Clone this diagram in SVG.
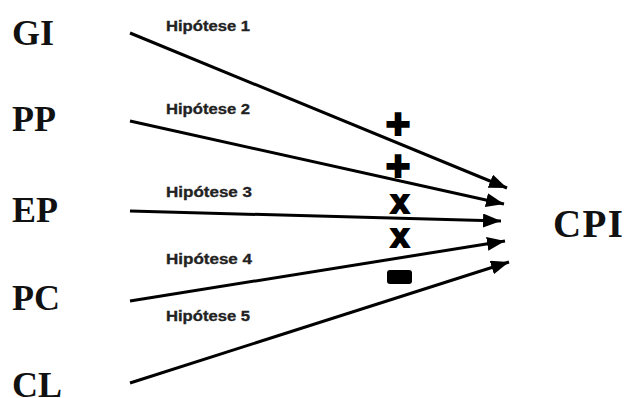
<svg xmlns="http://www.w3.org/2000/svg" width="630" height="398" viewBox="0 0 630 398">
<defs>
<style>
.lbl{font-family:"Liberation Serif","Times New Roman",serif;font-weight:bold;font-size:36px;fill:#111}
.hyp{font-family:"Liberation Sans",Arial,sans-serif;font-weight:bold;font-size:14px;fill:#222;stroke:#222;stroke-width:0.3}
.sym{font-family:"Liberation Sans",Arial,sans-serif;font-weight:bold;fill:#000;stroke:#000;text-anchor:middle}
.conn{stroke:#000;stroke-width:3;fill:none;marker-end:url(#ah)}
</style>
<marker id="ah" markerUnits="userSpaceOnUse" markerWidth="18" markerHeight="14" refX="18" refY="7" orient="auto">
<path d="M0,0 L18,7 L0,14 z" fill="#000"/>
</marker>
</defs>
<rect width="630" height="398" fill="#fff"/>
<g id="GI"><text class="lbl" x="12" y="45">GI</text></g>
<g id="PP"><text class="lbl" x="12" y="131">PP</text></g>
<g id="EP"><text class="lbl" x="12" y="222">EP</text></g>
<g id="PC"><text class="lbl" x="12" y="310">PC</text></g>
<g id="CL"><text class="lbl" x="12" y="397">CL</text></g>
<g id="CPI"><text class="lbl" x="553" y="237" style="font-size:39px" textLength="70">CPI</text></g>
<g id="connectors">
<line class="conn" x1="130" y1="33" x2="507" y2="188"/>
<line class="conn" x1="130" y1="121" x2="504" y2="204"/>
<line class="conn" x1="130" y1="211" x2="501" y2="221"/>
<line class="conn" x1="130" y1="301" x2="505" y2="241"/>
<line class="conn" x1="130" y1="383" x2="509" y2="262"/>
</g>
<g id="labels">
<text class="hyp" x="166" y="31" textLength="84" lengthAdjust="spacingAndGlyphs">Hipótese 1</text>
<text class="hyp" x="166" y="114" textLength="84" lengthAdjust="spacingAndGlyphs">Hipótese 2</text>
<text class="hyp" x="166" y="197" textLength="86" lengthAdjust="spacingAndGlyphs">Hipótese 3</text>
<text class="hyp" x="166" y="264" textLength="86" lengthAdjust="spacingAndGlyphs">Hipótese 4</text>
<text class="hyp" x="166" y="321" textLength="84" lengthAdjust="spacingAndGlyphs">Hipótese 5</text>
</g>
<g id="signs">
<text class="sym" x="398" y="138" style="font-size:42px" stroke-width="2">+</text>
<text class="sym" x="398" y="180" style="font-size:42px" stroke-width="2">+</text>
<text class="sym" x="400" y="213" style="font-size:33px" stroke-width="2">x</text>
<text class="sym" x="400" y="247" style="font-size:33px" stroke-width="2">x</text>
<rect x="387" y="270" width="25" height="14" rx="3" fill="#000"/>
</g>
</svg>
